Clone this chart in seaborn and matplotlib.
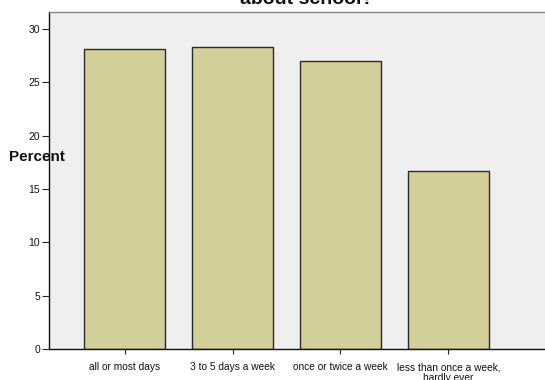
import matplotlib
matplotlib.use("Agg")
import matplotlib.pyplot as plt
import seaborn as sns
import pandas as pd

# Response categories and the share of respondents in each
categories = [
    "all or most days",
    "3 to 5 days a week",
    "once or twice a week",
    "less than once a week,\nhardly ever",
]
percent = [28.1, 28.3, 27.0, 16.7]
y_ticks = [0, 5, 10, 15, 20, 25, 30]

df = pd.DataFrame({"category": categories, "percent": percent})

sns.set_theme(style="white")
plt.rcParams["font.family"] = ["Liberation Sans", "DejaVu Sans"]

fig = plt.figure(figsize=(5.45, 3.8), dpi=100)
ax = fig.add_axes([0.0899, 0.0816, 0.9468, 0.8868])
ax.set_facecolor("#efefef")

sns.barplot(
    data=df, x="category", y="percent", order=categories,
    color="#d3cf98", saturation=1, width=0.75,
    edgecolor="#2b2b2b", linewidth=1.0, ax=ax,
)

ax.set_xlim(-0.7, 4.08)
ax.set_ylim(0, 31.6)
ax.set_yticks(y_ticks)
ax.set_yticklabels([str(v) for v in y_ticks], fontsize=7.5, color="#111111")
ax.tick_params(axis="y", direction="out", length=5, width=0.8, color="#222222", pad=1.5, left=True)
ax.tick_params(axis="x", direction="out", length=3.6, width=0.8, color="#222222", pad=6, bottom=True,
               labelsize=7.3, labelcolor="#111111")
for lbl in ax.get_xticklabels():
    lbl.set_linespacing(1.05)
ax.set_xlabel("")
ax.set_ylabel("")

for side in ("left", "bottom"):
    ax.spines[side].set_color("#111111")
    ax.spines[side].set_linewidth(1.0)
ax.spines["top"].set_color("#8a8a8a")
ax.spines["top"].set_linewidth(1.0)
ax.spines["right"].set_visible(False)

fig.text(0.068, 1 - 157 / 380, "Percent", fontsize=11, fontweight="bold",
         ha="center", va="center", color="#111111")
fig.text(307 / 545, 1 - 4 / 380, "about school?", fontsize=14, fontweight="bold",
         ha="center", va="baseline", color="#111111")

fig.savefig("out.png", dpi=100, facecolor="white")
